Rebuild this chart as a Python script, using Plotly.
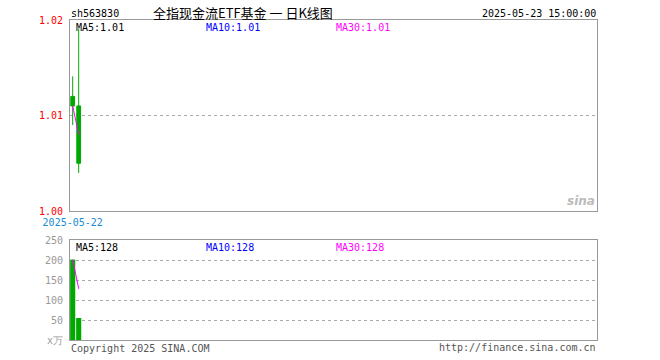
import plotly.graph_objects as go

# ---- data ----
dates = ["2025-05-22", "2025-05-23"]
x_idx = [0, 1]
open_p = [1.0120, 1.0110]
high_p = [1.0141, 1.0191]
low_p = [1.0090, 1.0040]
close_p = [1.0110, 1.0050]
ma_price = [1.0110, 1.0080]
volume = [201, 55]
ma_vol = [201, 128]
price_ticks = [1.00, 1.01, 1.02]
vol_ticks = [0, 50, 100, 150, 200, 250]
vol_ticktext = ["x万", "50", "100", "150", "200", "250"]

W, H = 660, 360
def px(x): return x / W
def py(y): return 1 - y / H

GREEN = "#00a800"
MONO = "DejaVu Sans Mono"
FS = 10

fig = go.Figure()
fig.add_trace(go.Candlestick(
    x=x_idx, open=open_p, high=high_p, low=low_p, close=close_p,
    increasing=dict(line=dict(color="#e00000", width=1), fillcolor="#e00000"),
    decreasing=dict(line=dict(color=GREEN, width=1), fillcolor=GREEN),
    whiskerwidth=0, xaxis="x", yaxis="y", showlegend=False, hoverinfo="skip"))
fig.add_trace(go.Scatter(x=x_idx, y=ma_price, mode="lines",
                         line=dict(color="#ff00ff", width=1),
                         xaxis="x", yaxis="y", showlegend=False))
fig.add_trace(go.Bar(x=x_idx, y=volume, marker=dict(color=GREEN, line=dict(width=0)),
                     width=0.85, xaxis="x2", yaxis="y2", showlegend=False))
fig.add_trace(go.Scatter(x=x_idx, y=ma_vol, mode="lines",
                         line=dict(color="#ff00ff", width=1),
                         xaxis="x2", yaxis="y2", showlegend=False))

xr = [-0.45, 87.38]
dom_x = [px(70), px(597)]
axis_common = dict(showline=True, mirror=True, linecolor="#999999", linewidth=1,
                   zeroline=False, fixedrange=True, automargin=False)

fig.update_layout(
    width=W, height=H, margin=dict(l=0, r=0, t=0, b=0, autoexpand=False),
    paper_bgcolor="white", plot_bgcolor="white",
    boxgap=0.1,
    xaxis=dict(domain=dom_x, range=xr, anchor="y", showgrid=False,
               tickvals=[0], ticktext=[dates[0]], ticks="",
               ticklabelstandoff=2,
               tickfont=dict(family=MONO, size=FS, color="#1a8ad4"),
               rangeslider=dict(visible=False), **axis_common),
    yaxis=dict(domain=[py(211), py(20)], range=[1.00, 1.02], anchor="x",
               tickvals=price_ticks, ticktext=[f"{v:.2f}" for v in price_ticks],
               tickfont=dict(family=MONO, size=FS, color="#ff0000"), ticks="",
               ticklabelstandoff=4,
               showgrid=True, gridcolor="#aaaaaa", griddash="dot", gridwidth=1,
               **axis_common),
    xaxis2=dict(domain=dom_x, range=xr, anchor="y2", showgrid=False,
                showticklabels=False, ticks="", **axis_common),
    yaxis2=dict(domain=[py(340), py(240)], range=[0, 250], anchor="x2",
                tickvals=vol_ticks, ticktext=vol_ticktext,
                tickfont=dict(family=MONO, size=FS, color="#999999"), ticks="",
                ticklabelstandoff=4,
                showgrid=True, gridcolor="#aaaaaa", griddash="dot", gridwidth=1,
                **axis_common),
    bargap=0.15,
    hovermode=False,
)

def ann(text, x, y, color="black", xanchor="left", size=FS, family=MONO,
        yanchor="middle", **kw):
    fig.add_annotation(text=text, x=px(x), y=py(y), xref="paper", yref="paper",
                       xanchor=xanchor, yanchor=yanchor, showarrow=False,
                       borderpad=0,
                       font=dict(family=family, size=size, color=color), **kw)

ann("sh563830", 70, 13.5, size=FS)
ann("全指现金流ETF基金 一 日K线图", 243, 12.5, xanchor="center", size=13,
    family="Noto Sans CJK SC")
ann("2025-05-23 15:00:00", 597, 13.5, xanchor="right", size=FS)
ann(f"MA5:{ma_price[-1]:.2f}", 75, 28, size=FS)
ann(f"MA10:{ma_price[-1]:.2f}", 205, 28, color="#0000ff", size=FS)
ann(f"MA30:{ma_price[-1]:.2f}", 335, 28, color="#ff00ff", size=FS)
ann(f"MA5:{ma_vol[-1]}", 75, 247, size=FS)
ann(f"MA10:{ma_vol[-1]}", 205, 247, color="#0000ff", size=FS)
ann(f"MA30:{ma_vol[-1]}", 335, 247, color="#ff00ff", size=FS)
ann("Copyright 2025 SINA.COM", 70, 348, color="#555555", size=FS)
ann("http://finance.sina.com.cn", 597, 347, xanchor="right", color="#555555", size=FS)
ann("<b><i>sina</i></b>", 596, 201, xanchor="right", color="#bbbbbb", size=12,
    family="DejaVu Sans")

fig.write_html("out.html",
               config={"displayModeBar": False, "staticPlot": True},
               post_script="document.body.style.margin='0';"
                           "document.body.style.overflow='hidden';")
